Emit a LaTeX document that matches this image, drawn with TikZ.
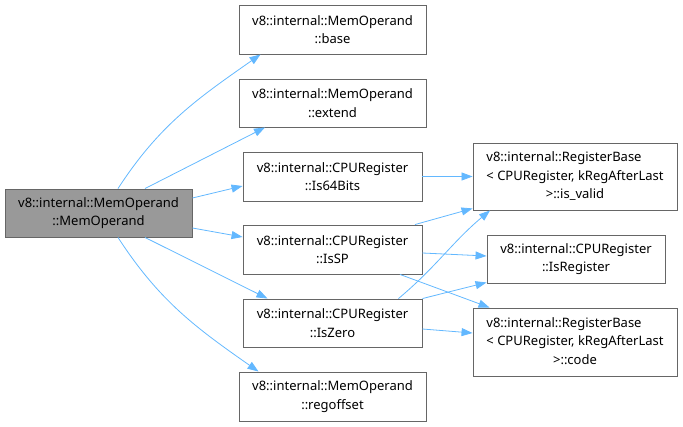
\documentclass[tikz,border=0pt]{standalone}
\usepackage{fontspec}
\setmainfont{Noto Sans}
\usepackage{tikz}
\usetikzlibrary{positioning,calc,arrows.meta}
\definecolor{boxBorder}{RGB}{102, 102, 102}
\definecolor{mainFill}{RGB}{153, 153, 153}
\definecolor{edgeBlue}{RGB}{99, 184, 255}

\begin{document}
\begin{tikzpicture}[x=1pt,y=1pt,
        fn/.style={draw=boxBorder,fill=white,line width=0.9pt,inner sep=0pt,align=center,
                   font=\fontsize{13}{18.5}\selectfont},
        call/.style={draw=edgeBlue,line width=0.8pt,-{Triangle[length=11pt,width=8pt]}}
    ]
        \useasboundingbox (0,0) rectangle (683,-426);

        % Caller
        \node[fn,fill=mainFill,minimum width=187pt,minimum height=48pt] (memop) at (98.5,-213) {v8::internal::MemOperand\\::MemOperand};

        % Direct callees
        \node[fn,minimum width=187pt,minimum height=49pt] (base) at (332.5,-29.5) {v8::internal::MemOperand\\::base};
        \node[fn,minimum width=187pt,minimum height=48pt] (extend) at (332.5,-103) {v8::internal::MemOperand\\::extend};
        \node[fn,minimum width=179pt,minimum height=49pt] (is64) at (332.5,-176.5) {v8::internal::CPURegister\\::Is64Bits};
        \node[fn,minimum width=179pt,minimum height=49pt] (issp) at (332.5,-249.5) {v8::internal::CPURegister\\::IsSP};
        \node[fn,minimum width=179pt,minimum height=48pt] (iszero) at (332.5,-323) {v8::internal::CPURegister\\::IsZero};
        \node[fn,minimum width=187pt,minimum height=49pt] (regoff) at (332.5,-396.5) {v8::internal::MemOperand\\::regoffset};

        % Second level
        \node[fn,minimum width=204pt,minimum height=67pt] (isvalid) at (575,-176.5) {%
            \begin{tabular}{@{}l@{}}v8::internal::RegisterBase\\< CPURegister, kRegAfterLast\\\multicolumn{1}{@{}c@{}}{>::is\_valid}\end{tabular}};
        \node[fn,minimum width=178pt,minimum height=48pt] (isreg) at (576,-259) {v8::internal::CPURegister\\::IsRegister};
        \node[fn,minimum width=204pt,minimum height=68pt] (code) at (575,-342) {%
            \begin{tabular}{@{}l@{}}v8::internal::RegisterBase\\< CPURegister, kRegAfterLast\\\multicolumn{1}{@{}c@{}}{>::code}\end{tabular}};

        % Calls from the constructor
        \draw[call] ([xshift=19.5pt]memop.north) to[out=57,in=-145] ([xshift=-72pt]base.south);
        \draw[call] ([xshift=46.5pt]memop.north) -- ([xshift=-67.5pt]extend.south);
        \draw[call] ([yshift=15pt]memop.east) -- ([yshift=-9.5pt]is64.west);
        \draw[call] ([yshift=-15pt]memop.east) -- ([yshift=12.5pt]issp.west);
        \draw[call] ([xshift=46.5pt]memop.south) -- ([xshift=-65pt]iszero.north);
        \draw[call] ([xshift=19.5pt]memop.south) to[out=-57,in=145] ([xshift=-74pt]regoff.north);

        % Calls from the register checks
        \draw[call] (is64.east) -- (isvalid.west |- is64.east);
        \draw[call] ([xshift=82.5pt]issp.north) -- ([yshift=2pt]isvalid.south west);
        \draw[call] ([yshift=-3.5pt]issp.east) -- ([yshift=3pt]isreg.west);
        \draw[call] ([xshift=67.5pt]issp.south) -- ([xshift=17pt]code.north west);
        \draw[call] ([xshift=66pt]iszero.north) to[out=40,in=-140] ([xshift=-85pt]isvalid.south);
        \draw[call] (iszero.north east) -- ([yshift=1pt]isreg.south west);
        \draw[call] ([yshift=-6pt]iszero.east) -- ([yshift=9pt]code.west);
    \end{tikzpicture}
\end{document}
